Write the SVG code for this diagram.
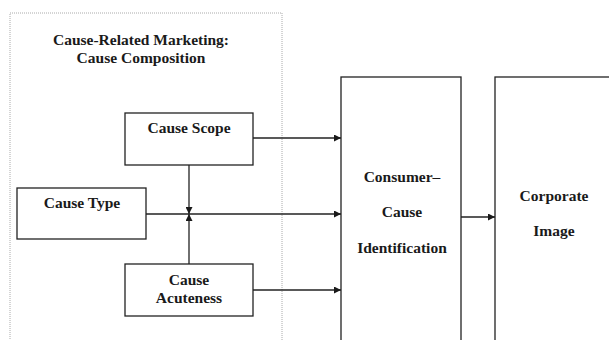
<svg xmlns="http://www.w3.org/2000/svg" width="609" height="340" viewBox="0 0 609 340">
<style>
.t{font-family:"Liberation Serif","Times New Roman",serif;font-weight:bold;font-size:15.5px;fill:#1a1a1a;text-anchor:middle}
.box{fill:#fff;stroke:#222;stroke-width:1.3}
.ln{stroke:#222;stroke-width:1.3;fill:none}
</style>
<defs>
<marker id="ah" viewBox="0 0 10 10" refX="10" refY="5" markerWidth="8" markerHeight="7" markerUnits="userSpaceOnUse" orient="auto">
<path d="M0,0 L10,5 L0,10 z" fill="#1a1a1a"/>
</marker>
</defs>
<rect width="609" height="340" fill="#fff"/>
<g id="group-crm">
<rect x="10" y="13" width="272" height="340" fill="none" stroke="#aaa" stroke-width="1" stroke-dasharray="1 1"/>
<text class="t" x="141" y="45">Cause-Related Marketing:</text>
<text class="t" x="141" y="63">Cause Composition</text>
</g>
<g id="consumer">
<rect class="box" x="341" y="77" width="120" height="280"/>
<text class="t" x="402" y="182">Consumer–</text>
<text class="t" x="402" y="217">Cause</text>
<text class="t" x="402" y="253">Identification</text>
</g>
<g id="corporate">
<rect class="box" x="495" y="77" width="130" height="280"/>
<text class="t" x="554" y="201">Corporate</text>
<text class="t" x="554" y="236">Image</text>
</g>
<g id="connectors">
<line class="ln" x1="189" y1="165" x2="189" y2="214" marker-end="url(#ah)"/>
<line class="ln" x1="189" y1="264" x2="189" y2="214" marker-end="url(#ah)"/>
<line class="ln" x1="253" y1="138" x2="341" y2="138" marker-end="url(#ah)"/>
<line class="ln" x1="146" y1="214" x2="341" y2="214" marker-end="url(#ah)"/>
<line class="ln" x1="253" y1="290" x2="341" y2="290" marker-end="url(#ah)"/>
<line class="ln" x1="461" y1="217" x2="495" y2="217" marker-end="url(#ah)"/>
</g>
<g id="cause-scope">
<rect class="box" x="125" y="113" width="128" height="52"/>
<text class="t" x="189" y="133">Cause Scope</text>
</g>
<g id="cause-type">
<rect class="box" x="17" y="188" width="129" height="51"/>
<text class="t" x="82" y="208">Cause Type</text>
</g>
<g id="cause-acuteness">
<rect class="box" x="125" y="264" width="128" height="52"/>
<text class="t" x="189" y="285">Cause</text>
<text class="t" x="189" y="303">Acuteness</text>
</g>
</svg>
